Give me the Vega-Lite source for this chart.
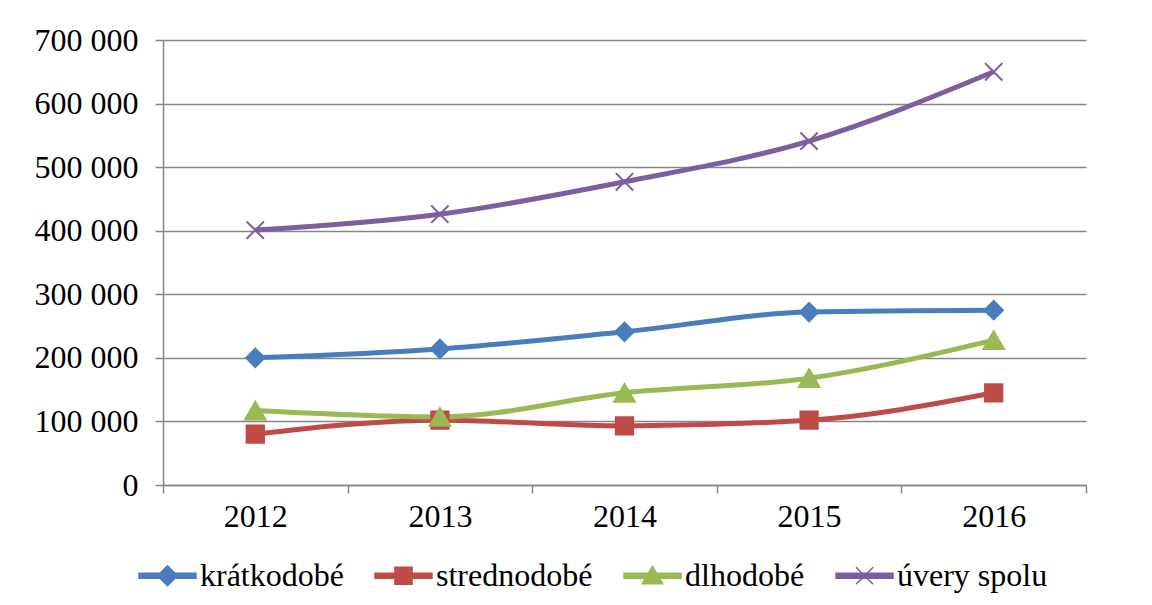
{
  "$schema": "https://vega.github.io/schema/vega-lite/v6.json",
  "width": 923,
  "height": 445,
  "autosize": {"type": "none"},
  "padding": {"left": 163, "top": 40, "right": 66, "bottom": 120},
  "background": "white",
  "config": {
    "font": "Liberation Serif",
    "view": {"stroke": null},
    "axis": {
      "title": null,
      "domainColor": "#868686",
      "domainWidth": 1.5,
      "tickColor": "#868686",
      "tickWidth": 1.5,
      "tickSize": 8,
      "labelFont": "Liberation Serif",
      "labelFontSize": 32,
      "labelColor": "#000000"
    }
  },
  "data": {
    "values": [
      {"year": "2012", "series": "krátkodobé", "value": 200000},
      {"year": "2013", "series": "krátkodobé", "value": 214000},
      {"year": "2014", "series": "krátkodobé", "value": 241000},
      {"year": "2015", "series": "krátkodobé", "value": 272000},
      {"year": "2016", "series": "krátkodobé", "value": 275000},
      {"year": "2012", "series": "strednodobé", "value": 80000},
      {"year": "2013", "series": "strednodobé", "value": 102000},
      {"year": "2014", "series": "strednodobé", "value": 93000},
      {"year": "2015", "series": "strednodobé", "value": 102000},
      {"year": "2016", "series": "strednodobé", "value": 145000},
      {"year": "2012", "series": "dlhodobé", "value": 117000},
      {"year": "2013", "series": "dlhodobé", "value": 107000},
      {"year": "2014", "series": "dlhodobé", "value": 145000},
      {"year": "2015", "series": "dlhodobé", "value": 168000},
      {"year": "2016", "series": "dlhodobé", "value": 228000},
      {"year": "2012", "series": "úvery spolu", "value": 401000},
      {"year": "2013", "series": "úvery spolu", "value": 426000},
      {"year": "2014", "series": "úvery spolu", "value": 477000},
      {"year": "2015", "series": "úvery spolu", "value": 541000},
      {"year": "2016", "series": "úvery spolu", "value": 650000}
    ]
  },
  "encoding": {
    "x": {
      "field": "year",
      "type": "ordinal",
      "bandPosition": 0.5,
      "scale": {"type": "band", "paddingInner": 0, "paddingOuter": 0},
      "axis": {"tickBand": "extent", "labelAngle": 0, "labelPadding": 8, "grid": false}
    },
    "y": {
      "field": "value",
      "type": "quantitative",
      "scale": {"domain": [0, 700000], "nice": false},
      "axis": {
        "values": [0, 100000, 200000, 300000, 400000, 500000, 600000, 700000],
        "grid": true,
        "gridColor": "#868686",
        "gridWidth": 1.5,
        "labelPadding": 17,
        "labelExpr": "replace(format(datum.value, ','), ',', ' ')"
      }
    }
  },
  "layer": [
    {
      "mark": {"type": "line", "strokeWidth": 5, "interpolate": "monotone"},
      "encoding": {
        "color": {
          "field": "series",
          "type": "nominal",
          "scale": {
            "domain": ["krátkodobé", "strednodobé", "dlhodobé", "úvery spolu"],
            "range": ["#4A7EBB", "#BE4B48", "#98B954", "#7D5FA0"]
          },
          "legend": {
            "orient": "none",
            "legendX": -25,
            "legendY": 506,
            "direction": "horizontal",
            "title": null,
            "padding": 0,
            "symbolSize": 3249,
            "symbolStrokeWidth": 1.5,
            "labelFont": "Liberation Serif",
            "labelFontSize": 32,
            "labelColor": "#000000",
            "labelOffset": 3,
            "labelLimit": 400,
            "columnPadding": 28,
            "encode": {
              "symbols": {
                "update": {
                  "shape": {"signal": "datum.value === 'krátkodobé' ? 'M-1,-0.09H1V0.09H-1Z M0,-0.35L0.35,0L0,0.35L-0.35,0Z' : datum.value === 'strednodobé' ? 'M-1,-0.09H1V0.09H-1Z M-0.3,-0.3H0.3V0.3H-0.3Z' : datum.value === 'dlhodobé' ? 'M-1,-0.09H1V0.09H-1Z M0,-0.33L0.36,0.28L-0.36,0.28Z' : 'M-1,-0.09H1V0.09H-1Z M-0.3,-0.3L0.3,0.3M-0.3,0.3L0.3,-0.3'"},
                  "fill": {"signal": "scale('color', datum.value)"},
                  "stroke": {"signal": "scale('color', datum.value)"},
                  "strokeWidth": {"value": 1.5},
                  "opacity": {"value": 1}
                }
              }
            }
          }
        }
      }
    },
    {
      "transform": [{"filter": "datum.series === 'krátkodobé'"}],
      "mark": {"type": "point", "filled": true, "opacity": 1, "shape": "diamond", "size": 340, "color": "#4A7EBB", "stroke": "#4A7EBB", "strokeWidth": 2}
    },
    {
      "transform": [{"filter": "datum.series === 'strednodobé'"}],
      "mark": {"type": "point", "filled": true, "opacity": 1, "shape": "square", "size": 300, "color": "#BE4B48", "stroke": "#BE4B48", "strokeWidth": 2}
    },
    {
      "transform": [{"filter": "datum.series === 'dlhodobé'"}],
      "mark": {"type": "point", "filled": true, "opacity": 1, "shape": "triangle-up", "size": 420, "color": "#98B954", "stroke": "#98B954", "strokeWidth": 2}
    },
    {
      "transform": [{"filter": "datum.series === 'úvery spolu'"}],
      "mark": {"type": "point", "filled": false, "opacity": 1, "shape": "M-1,-1L1,1M-1,1L1,-1", "size": 300, "color": "#7D5FA0", "strokeWidth": 2}
    }
  ]
}
